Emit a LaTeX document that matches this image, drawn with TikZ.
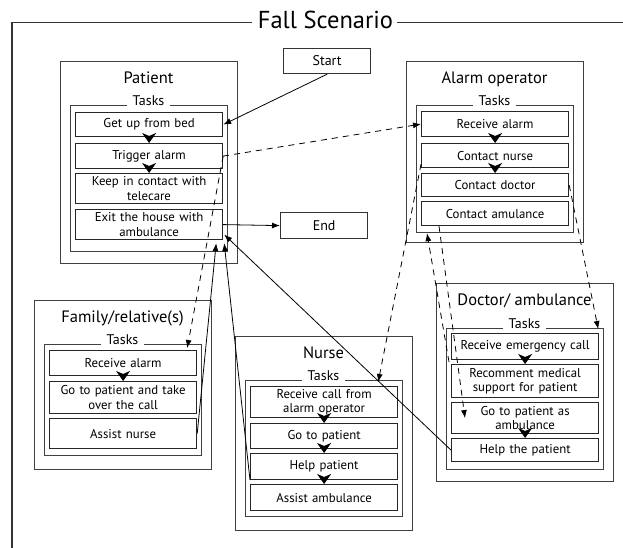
\documentclass[tikz,border=0pt]{standalone}
\usepackage{fontspec}
\setmainfont{PT Sans}
\usetikzlibrary{arrows.meta,calc}

\newcommand{\tasksz}{\fontsize{12.8}{14.5}\selectfont}
\newcommand{\lanesz}{\fontsize{16.5}{19}\selectfont}
\newcommand{\grpsz}{\fontsize{14}{16}\selectfont}

\begin{document}
\begin{tikzpicture}[x=1pt,y=-1pt,
  frame/.style={draw=black!80, line width=1.1pt},
  lane/.style={draw=black!75, line width=1.2pt, anchor=north west, minimum width=177pt, inner sep=0pt},
  lanetitle/.style={anchor=base, font=\lanesz, inner sep=0pt},
  taskgrp/.style={draw=black!75, line width=1.2pt, anchor=north west, minimum width=157pt, inner sep=0pt},
  grplabel/.style={anchor=base, fill=white, inner xsep=6pt, inner ysep=2pt, font=\grpsz},
  task/.style={draw=black!85, line width=1.2pt, anchor=north west, minimum width=147pt, inner sep=0pt,
               text width=145pt, align=center, font=\tasksz},
  endpoint/.style={draw=black!80, line width=1.2pt, anchor=north west, minimum width=87pt,
               minimum height=25pt, inner sep=0pt, font=\grpsz},
  flow/.style={-{Stealth[length=10pt,width=14pt,inset=3pt]}, line width=0.8pt},
  conn/.style={-{Latex[length=8pt,width=6pt]}, line width=0.8pt},
  sig/.style={conn, dash pattern=on 6pt off 5pt}
]
\useasboundingbox (0,0) rectangle (623,548);

% outer frame with its heading
\draw[frame] (12,548) -- (12,22.5) -- (252,22.5);
\draw[frame] (397,22.5) -- (623,22.5);
\node[anchor=base, inner sep=0pt, font=\fontsize{24.5}{27}\selectfont] (heading) at (325.5,29) {Fall Scenario};

% start and end
\node[endpoint] (start) at (283,48) {Start};
\node[endpoint, minimum height=26pt] (end) at (280,212) {End};

% ---------------- Patient ----------------
\node[lane, minimum height=202pt] (pLane) at (60,61) {};
\node[lanetitle] (pTitle) at (148.5,83.5) {Patient};
\node[taskgrp, minimum height=146pt] (pTasks) at (70,105) {};
\node[grplabel] (pTasksLbl) at (148.5,105.5) {Tasks};
\node[task, minimum height=24pt] (getup) at (75,112) {Get up from bed};
\node[task, minimum height=25pt] (trigger) at (75,143) {Trigger alarm};
\node[task, minimum height=30pt] (keep) at (75,173) {Keep in contact with\\telecare};
\node[task, minimum height=30pt] (exit) at (75,209) {Exit the house with\\ambulance};

% ---------------- Alarm operator ----------------
\node[lane, minimum height=181pt] (aLane) at (406,61) {};
\node[lanetitle] (aTitle) at (494.5,83.5) {Alarm operator};
\node[taskgrp, minimum height=127pt] (aTasks) at (416,105) {};
\node[grplabel] (aTasksLbl) at (494.5,105.5) {Tasks};
\node[task, minimum height=25pt] (recvA) at (421,111) {Receive alarm};
\node[task, minimum height=24pt] (cNurse) at (421,143) {Contact nurse};
\node[task, minimum height=23pt] (cDoc) at (421,173) {Contact doctor};
\node[task, minimum height=24pt] (cAmb) at (421,201) {Contact amulance};

% ---------------- Family ----------------
\node[lane, minimum height=169pt] (fLane) at (34,300) {};
\node[lanetitle] (fTitle) at (122.5,322.5) {Family/relative(s)};
\node[taskgrp, minimum height=111pt] (fTasks) at (44,344) {};
\node[grplabel] (fTasksLbl) at (122.5,344.5) {Tasks};
\node[task, minimum height=25pt] (fRecv) at (49,350) {Receive alarm};
\node[task, minimum height=32pt] (fGo) at (49,381) {Go to patient and take\\over the call};
\node[task, minimum height=30pt] (fAssist) at (49,418) {Assist nurse};

% ---------------- Nurse ----------------
\node[lane, minimum height=194pt] (nLane) at (235,336) {};
\node[lanetitle] (nTitle) at (323.5,358.5) {Nurse};
\node[taskgrp, minimum height=136pt] (nTasks) at (245,380) {};
\node[grplabel] (nTasksLbl) at (323.5,380.5) {Tasks};
\node[task, minimum height=31pt] (nRecv) at (250,386) {Receive call from\\alarm operator};
\node[task, minimum height=25pt] (nGo) at (250,423) {Go to patient};
\node[task, minimum height=26pt] (nHelp) at (250,453) {Help patient};
\node[task, minimum height=26pt] (nAssist) at (250,484) {Assist ambulance};

% ---------------- Doctor / ambulance ----------------
\node[lane, minimum height=198pt] (dLane) at (436,283) {};
\node[lanetitle] (dTitle) at (524.5,305.5) {Doctor/ ambulance};
\node[taskgrp, minimum height=141pt] (dTasks) at (446,328) {};
\node[grplabel] (dTasksLbl) at (524.5,328.5) {Tasks};
\node[task, minimum height=26pt] (dRecv) at (451,333) {Receive emergency call};
\node[task, minimum height=33pt] (dRec) at (451,364) {Recomment medical\\support for patient};
\node[task, minimum height=31pt] (dGo) at (451,402) {Go to patient as\\ambulance};
\node[task, minimum height=23pt] (dHelp) at (451,438) {Help the patient};

% task order inside each lane
\draw[flow] (getup.south) -- (trigger.north);
\draw[flow] (trigger.south) -- (keep.north);
\draw[flow] (recvA.south) -- (cNurse.north);
\draw[flow] (cNurse.south) -- (cDoc.north);
\draw[flow] (fRecv.south) -- (fGo.north);
\draw[flow] (nRecv.south) -- (nGo.north);
\draw[flow] (nGo.south) -- (nHelp.north);
\draw[flow] (nHelp.south) -- (nAssist.north);
\draw[flow] (dRecv.south) -- (dRec.north);
\draw[flow] (dGo.south) -- (dHelp.north);

% control flow between lanes
\draw[conn] (start.south) -- (getup.east);
\draw[conn] (exit.east) -- (end.west);
\draw[conn] (dHelp.west) -- ($(exit.east)+(1,10)$);
\draw[conn] (fAssist.east) -- ($(exit.south east)+(-7,3)$);
\draw[conn] (nHelp.south west) -- ($(exit.south east)+(1,3)$);

% messages
\draw[sig] (trigger.east) -- (recvA.west);
\draw[sig] (trigger.east) -- ($(fRecv.north east)+(-10,-2)$);
\draw[sig] ($(cNurse.south west)+(0,-4)$) -- ($(nRecv.north east)+(-20,-4)$);
\draw[sig] (cDoc.east) -- ($(dRecv.north east)+(-1,-4)$);
\draw[sig] ($(cAmb.south west)+(18,0)$) -- ($(dGo.west)+(14,0)$);
\draw[sig] ($(dRec.north west)+(-2,-2)$) -- ($(aTasks.south west)+(11,0)$);
\end{tikzpicture}
\end{document}
